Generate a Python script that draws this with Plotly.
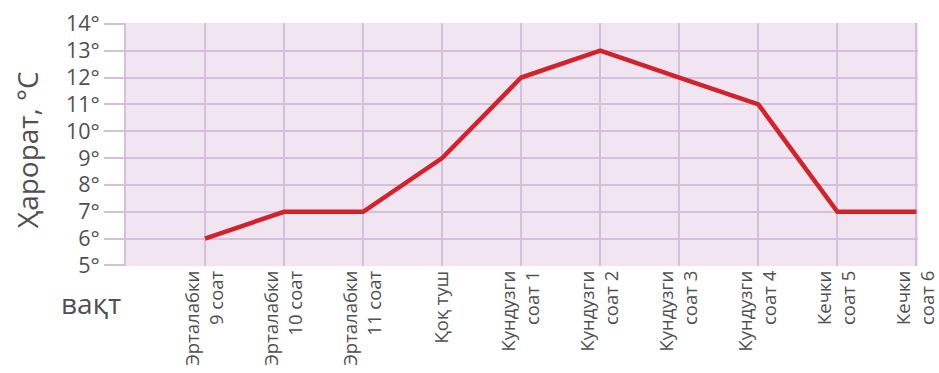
import plotly.graph_objects as go

categories = [
    "Эрталабки<br>9 соат", "Эрталабки<br>10 соат", "Эрталабки<br>11 соат", "Қоқ туш",
    "Кундузги<br>соат 1", "Кундузги<br>соат 2", "Кундузги<br>соат 3", "Кундузги<br>соат 4",
    "Кечки<br>соат 5", "Кечки<br>соат 6",
]
temps = [6, 7, 7, 9, 12, 13, 12, 11, 7, 7]
y_ticks = [5, 6, 7, 8, 9, 10, 11, 12, 13, 14]
y_labels = [f"{v}°" for v in y_ticks]

grid = "#d5bfdc"
txt = "#505050"
font = "Open Sans"

fig = go.Figure()
fig.add_trace(go.Scatter(
    x=categories, y=temps, mode="lines",
    line=dict(color="#d0232b", width=4.5),
    hoverinfo="skip",
))

fig.update_layout(
    width=939, height=373,
    margin=dict(l=126, r=21, t=23, b=107, autoexpand=False),
    paper_bgcolor="white",
    plot_bgcolor="#f1e5f1",
    showlegend=False,
    font=dict(family=font, color=txt),
    xaxis=dict(
        type="category", range=[-1, 9.02], automargin=False,
        showgrid=True, gridcolor=grid, gridwidth=2,
        tickangle=-90, tickfont=dict(size=18.5, color=txt, family=font),
        ticks="", showline=False, zeroline=False,
    ),
    yaxis=dict(
        range=[4.98, 14.03], tickmode="array", tickvals=y_ticks, ticktext=y_labels,
        automargin=False, ticklabeloverflow="allow",
        showgrid=True, gridcolor=grid, gridwidth=2,
        ticks="outside", ticklen=20, tickwidth=2, tickcolor=grid,
        tickfont=dict(size=21.5, color=txt, family=font),
        showline=True, linecolor=grid, linewidth=2,
        zeroline=False,
    ),
    annotations=[
        dict(text="Ҳарорат, °С", textangle=-90, x=-0.124, y=0.48,
             xref="paper", yref="paper", showarrow=False,
             font=dict(size=28, color=txt, family=font), xanchor="center", yanchor="middle"),
        dict(text="вақт", x=-0.044, y=-0.152,
             xref="paper", yref="paper", showarrow=False,
             font=dict(size=28, color=txt, family=font), xanchor="center", yanchor="middle"),
    ],
)

fig.write_html(
    "out.html",
    config={"displayModeBar": False},
    post_script="document.body.style.margin='0';document.body.style.overflow='hidden';",
)
